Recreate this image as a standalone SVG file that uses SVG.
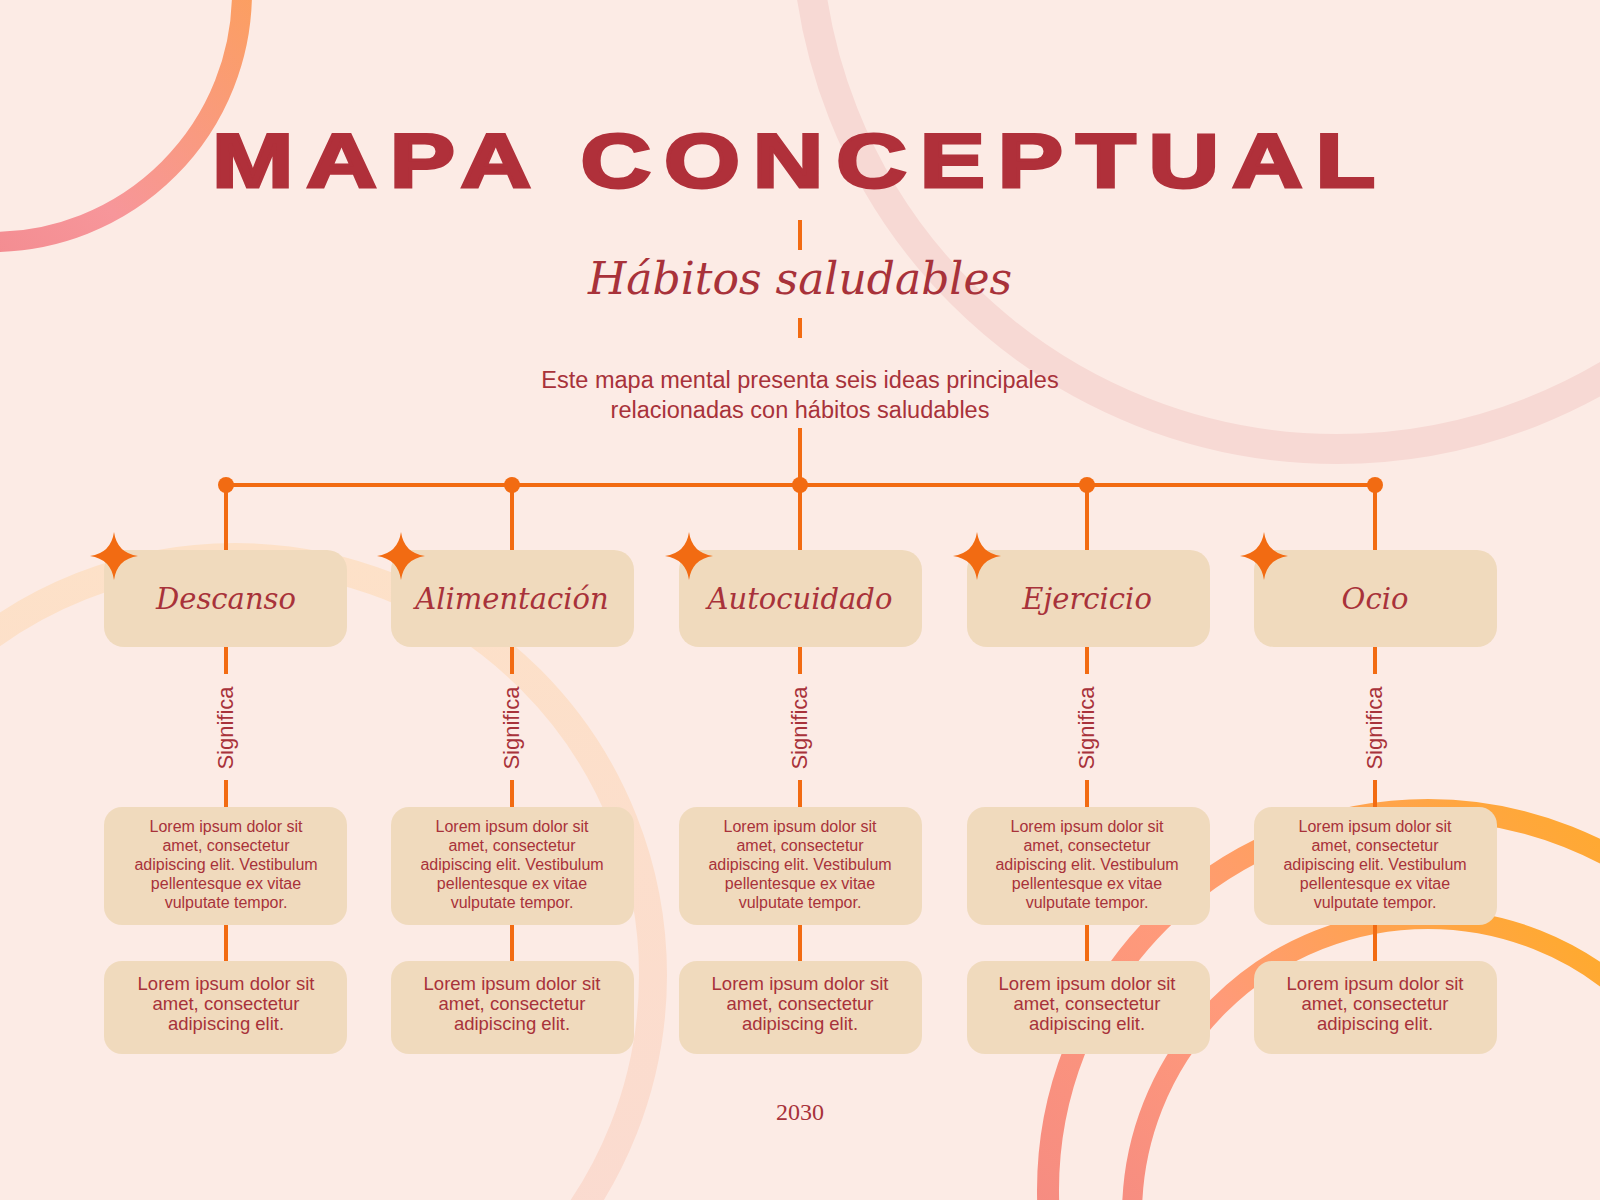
<svg xmlns="http://www.w3.org/2000/svg" width="1600" height="1200" viewBox="0 0 1600 1200">
<defs>
<linearGradient id="g1" x1="1" y1="0" x2="0" y2="1"><stop offset="0" stop-color="#ffa53a"/><stop offset="0.6" stop-color="#f7969a"/><stop offset="1" stop-color="#ee7f85"/></linearGradient>
<linearGradient id="g2" x1="1" y1="0" x2="0" y2="1"><stop offset="0" stop-color="#ffb012"/><stop offset="0.5" stop-color="#ff9a7a"/><stop offset="1" stop-color="#ee8088"/></linearGradient>
<linearGradient id="g3" x1="0" y1="0" x2="0" y2="1"><stop offset="0" stop-color="#fde1c8"/><stop offset="1" stop-color="#fad9d2"/></linearGradient>
<path id="star" d="M0,-24 Q3,-3 24,0 Q3,3 0,24 Q-3,3 -24,0 Q-3,-3 0,-24Z" fill="#f26b12"/>
</defs>
<style>
.ln{stroke:#f26b12;stroke-width:4;fill:none}
.hb{fill:#f0dabd}
.ht{font-family:"DejaVu Serif","Liberation Serif",serif;font-style:italic;font-size:29px;fill:#a8323a;text-anchor:middle}
.sg{font-family:"Liberation Sans",Arial,sans-serif;font-size:22px;fill:#a8323a;text-anchor:middle}
.d{font-family:"Liberation Sans",Arial,sans-serif;font-size:16px;fill:#a8323a;text-anchor:middle}
.b{font-family:"Liberation Sans",Arial,sans-serif;font-size:18.5px;fill:#a8323a;text-anchor:middle}
.intro{font-family:"Liberation Sans",Arial,sans-serif;font-size:23.5px;fill:#a8323a;text-anchor:middle}
</style>
<rect width="1600" height="1200" fill="#fcebe5"/>
<g id="decor" fill="none">
<circle cx="1337" cy="-82" r="531" stroke="#f7d9d4" stroke-width="30"/>
<circle cx="235" cy="975" r="418" stroke="url(#g3)" stroke-width="28"/>
<circle cx="-8" cy="-8" r="250" stroke="url(#g1)" stroke-width="20"/>
<circle cx="1428" cy="1190" r="380" stroke="url(#g2)" stroke-width="22"/>
<circle cx="1428" cy="1215" r="296" stroke="url(#g2)" stroke-width="20"/>
</g>
<text x="800" y="187" font-family="'Liberation Sans',Arial,sans-serif" font-weight="900" font-size="76" letter-spacing="10" fill="#b0303a" text-anchor="middle" stroke="#b0303a" stroke-width="3" textLength="1176" lengthAdjust="spacingAndGlyphs">MAPA CONCEPTUAL</text>
<text x="800" y="294" font-family="'DejaVu Serif','Liberation Serif',serif" font-style="italic" font-size="44" fill="#a8323a" text-anchor="middle">Hábitos saludables</text>
<text x="800" y="388" class="intro">Este mapa mental presenta seis ideas principales</text>
<text x="800" y="418" class="intro">relacionadas con hábitos saludables</text>
<g id="connectors">
<path class="ln" d="M800 220V250M800 318V338M800 428V550M225 485H1375"/>
<g fill="#f26b12"><circle cx="226" cy="485" r="8"/><circle cx="512" cy="485" r="8"/><circle cx="800" cy="485" r="8"/><circle cx="1087" cy="485" r="8"/><circle cx="1375" cy="485" r="8"/></g>
<path class="ln" d="M226 485V550M512 485V550M1087 485V550M1375 485V550"/>
<path class="ln" d="M226 647V674M226 780V807M226 925V961M512 647V674M512 780V807M512 925V961M800 647V674M800 780V807M800 925V961M1087 647V674M1087 780V807M1087 925V961M1375 647V674M1375 780V807M1375 925V961"/>
</g>
<g id="n1"><rect class="hb" x="104" y="550" width="243" height="97" rx="20"/><use href="#star" x="114" y="556"/><text class="ht" x="226" y="609">Descanso</text>
<text class="sg" transform="translate(233,728) rotate(-90)">Significa</text>
<rect class="hb" x="104" y="807" width="243" height="118" rx="18"/><text class="d" x="226" y="832">Lorem ipsum dolor sit</text><text class="d" x="226" y="851">amet, consectetur</text><text class="d" x="226" y="870">adipiscing elit. Vestibulum</text><text class="d" x="226" y="889">pellentesque ex vitae</text><text class="d" x="226" y="908">vulputate tempor.</text>
<rect class="hb" x="104" y="961" width="243" height="93" rx="18"/><text class="b" x="226" y="990">Lorem ipsum dolor sit</text><text class="b" x="226" y="1010">amet, consectetur</text><text class="b" x="226" y="1030">adipiscing elit.</text></g>
<g id="n2"><rect class="hb" x="391" y="550" width="243" height="97" rx="20"/><use href="#star" x="401" y="556"/><text class="ht" x="512" y="609">Alimentación</text>
<text class="sg" transform="translate(519,728) rotate(-90)">Significa</text>
<rect class="hb" x="391" y="807" width="243" height="118" rx="18"/><text class="d" x="512" y="832">Lorem ipsum dolor sit</text><text class="d" x="512" y="851">amet, consectetur</text><text class="d" x="512" y="870">adipiscing elit. Vestibulum</text><text class="d" x="512" y="889">pellentesque ex vitae</text><text class="d" x="512" y="908">vulputate tempor.</text>
<rect class="hb" x="391" y="961" width="243" height="93" rx="18"/><text class="b" x="512" y="990">Lorem ipsum dolor sit</text><text class="b" x="512" y="1010">amet, consectetur</text><text class="b" x="512" y="1030">adipiscing elit.</text></g>
<g id="n3"><rect class="hb" x="679" y="550" width="243" height="97" rx="20"/><use href="#star" x="689" y="556"/><text class="ht" x="800" y="609">Autocuidado</text>
<text class="sg" transform="translate(807,728) rotate(-90)">Significa</text>
<rect class="hb" x="679" y="807" width="243" height="118" rx="18"/><text class="d" x="800" y="832">Lorem ipsum dolor sit</text><text class="d" x="800" y="851">amet, consectetur</text><text class="d" x="800" y="870">adipiscing elit. Vestibulum</text><text class="d" x="800" y="889">pellentesque ex vitae</text><text class="d" x="800" y="908">vulputate tempor.</text>
<rect class="hb" x="679" y="961" width="243" height="93" rx="18"/><text class="b" x="800" y="990">Lorem ipsum dolor sit</text><text class="b" x="800" y="1010">amet, consectetur</text><text class="b" x="800" y="1030">adipiscing elit.</text></g>
<g id="n4"><rect class="hb" x="967" y="550" width="243" height="97" rx="20"/><use href="#star" x="977" y="556"/><text class="ht" x="1087" y="609">Ejercicio</text>
<text class="sg" transform="translate(1094,728) rotate(-90)">Significa</text>
<rect class="hb" x="967" y="807" width="243" height="118" rx="18"/><text class="d" x="1087" y="832">Lorem ipsum dolor sit</text><text class="d" x="1087" y="851">amet, consectetur</text><text class="d" x="1087" y="870">adipiscing elit. Vestibulum</text><text class="d" x="1087" y="889">pellentesque ex vitae</text><text class="d" x="1087" y="908">vulputate tempor.</text>
<rect class="hb" x="967" y="961" width="243" height="93" rx="18"/><text class="b" x="1087" y="990">Lorem ipsum dolor sit</text><text class="b" x="1087" y="1010">amet, consectetur</text><text class="b" x="1087" y="1030">adipiscing elit.</text></g>
<g id="n5"><rect class="hb" x="1254" y="550" width="243" height="97" rx="20"/><use href="#star" x="1264" y="556"/><text class="ht" x="1375" y="609">Ocio</text>
<text class="sg" transform="translate(1382,728) rotate(-90)">Significa</text>
<rect class="hb" x="1254" y="807" width="243" height="118" rx="18"/><text class="d" x="1375" y="832">Lorem ipsum dolor sit</text><text class="d" x="1375" y="851">amet, consectetur</text><text class="d" x="1375" y="870">adipiscing elit. Vestibulum</text><text class="d" x="1375" y="889">pellentesque ex vitae</text><text class="d" x="1375" y="908">vulputate tempor.</text>
<rect class="hb" x="1254" y="961" width="243" height="93" rx="18"/><text class="b" x="1375" y="990">Lorem ipsum dolor sit</text><text class="b" x="1375" y="1010">amet, consectetur</text><text class="b" x="1375" y="1030">adipiscing elit.</text></g>
<text x="800" y="1120" font-family="'Liberation Serif',serif" font-size="24" fill="#a8323a" text-anchor="middle">2030</text>
</svg>
